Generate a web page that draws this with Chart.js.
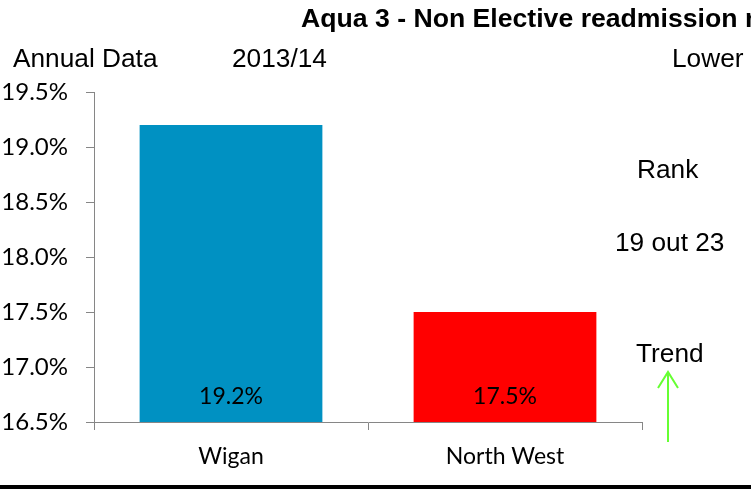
<!DOCTYPE html>
<html>
<head>
<meta charset="utf-8">
<script src="https://cdn.jsdelivr.net/npm/chart.js@4.4.1/dist/chart.umd.min.js"></script>
<style>
  html, body { margin: 0; padding: 0; background: #fff; overflow: hidden; }
  #wrap { position: relative; width: 751px; height: 489px; }
  #chart { position: absolute; left: 0; top: 0; }
  .txt { position: absolute; font-family: 'Liberation Sans', Arial, sans-serif; font-size: 25px; line-height: 25px; color: #000; white-space: nowrap; transform: scaleX(1.05); transform-origin: left top; }
  .title { font-weight: bold; transform: scaleX(1.065); }
  #bottomLine { position: absolute; left: 0; top: 485px; width: 751px; height: 4px; background: #000; }
</style>
</head>
<body>
<div id="wrap">
  <canvas id="chart" width="751" height="489"></canvas>
  <div class="txt title" style="left:301px;top:6px">Aqua 3 - Non Elective readmission r</div>
  <div class="txt" style="left:13px;top:46px">Annual Data</div>
  <div class="txt" style="left:232px;top:46px">2013/14</div>
  <div class="txt" style="left:672px;top:46px">Lower</div>
  <div class="txt" style="left:637px;top:157px">Rank</div>
  <div class="txt" style="left:615px;top:230px">19 out 23</div>
  <div class="txt" style="left:636px;top:341px">Trend</div>
  <div id="bottomLine"></div>
</div>
<script>
// Chart data
const categories = ['Wigan', 'North West'];
const rates = [19.2, 17.5];
const barColors = ['#0091C2', '#FF0000'];
const yMin = 16.5;
const yMax = 19.5;
const yStep = 0.5;

const axisGrey = '#868686';

// value labels sitting near the bottom of each bar
const barLabels = {
  id: 'barLabels',
  afterDatasetsDraw(chart) {
    const { ctx, scales: { y } } = chart;
    const meta = chart.getDatasetMeta(0);
    ctx.save();
    ctx.font = '23px Lato';
    ctx.fillStyle = '#000';
    ctx.textAlign = 'center';
    ctx.textBaseline = 'alphabetic';
    meta.data.forEach((bar, i) => {
      ctx.fillText(rates[i].toFixed(1) + '%', bar.x, y.bottom - 18);
    });
    ctx.restore();
  }
};

// green trend arrow
const trendArrow = {
  id: 'trendArrow',
  afterDraw(chart) {
    const ctx = chart.ctx;
    ctx.save();
    ctx.strokeStyle = '#66FF33';
    ctx.lineWidth = 2;
    ctx.beginPath();
    ctx.moveTo(668, 442);
    ctx.lineTo(668, 372);
    ctx.moveTo(658, 388);
    ctx.lineTo(668, 372);
    ctx.lineTo(678, 388);
    ctx.stroke();
    ctx.restore();
  }
};

new Chart(document.getElementById('chart'), {
  type: 'bar',
  data: {
    labels: categories,
    datasets: [{
      data: rates,
      backgroundColor: barColors,
      borderWidth: 0,
      barPercentage: 0.667,
      categoryPercentage: 1,
    }],
  },
  options: {
    responsive: false,
    animation: false,
    events: [],
    layout: { padding: { left: 0, top: 92, right: 109, bottom: 0 } },
    plugins: { legend: { display: false }, tooltip: { enabled: false } },
    scales: {
      y: {
        min: yMin, max: yMax,
        afterFit(s) { s.width = 94; },
        ticks: {
          stepSize: yStep,
          color: '#000',
          font: { family: 'Lato', size: 24 },
          padding: 18,
          callback: v => v.toFixed(1) + '%',
        },
        grid: { drawOnChartArea: false, drawTicks: true, tickLength: 8, color: axisGrey },
        border: { color: axisGrey, width: 1 },
      },
      x: {
        afterFit(s) { s.height = 67; },
        ticks: { color: '#000', font: { family: 'Lato', size: 23 }, padding: 13 },
        grid: { drawOnChartArea: false, drawTicks: true, tickLength: 8, color: axisGrey },
        border: { color: axisGrey, width: 1 },
      },
    },
  },
  plugins: [barLabels, trendArrow],
});
</script>
</body>
</html>
